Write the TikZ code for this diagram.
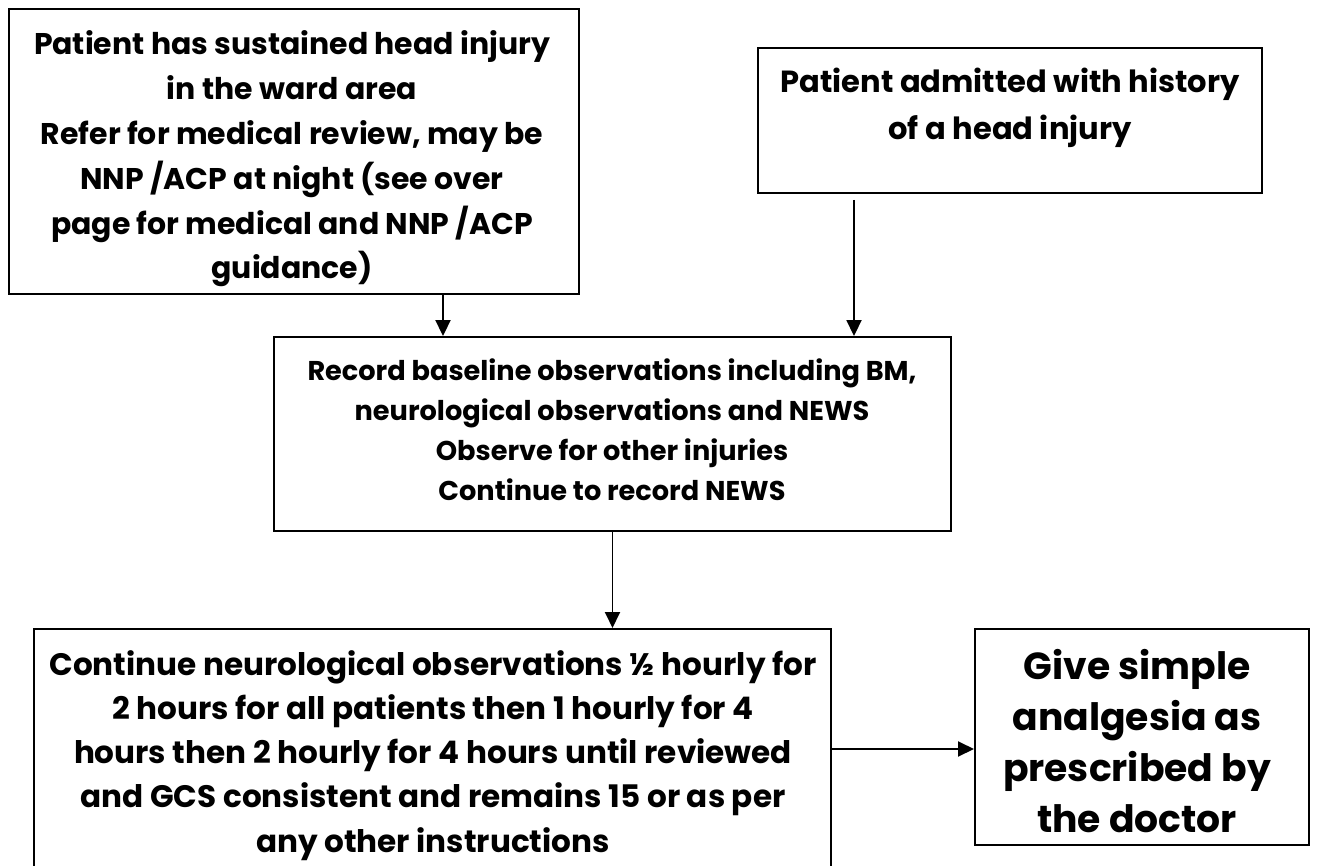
\documentclass[tikz,border=0pt]{standalone}
\usepackage{fontspec}
\setmainfont{Poppins}[BoldFont={* Bold}]
\usetikzlibrary{arrows.meta}
\newdimen\fitw
\newcommand\fitlines[4]{% target width, sample line, baselineskip, rows
  \settowidth\fitw{\bfseries\fontsize{10}{12}\selectfont #2}%
  \pgfmathsetmacro\fitsz{10*#1/\fitw}%
  \bfseries\fontsize{\fitsz}{#3}\selectfont\renewcommand\arraystretch{1}%
  \begin{tabular}[t]{@{}c@{}}#4\end{tabular}}
\begin{document}
\begin{tikzpicture}[x=1pt,y=-1pt,
  box/.style={draw, line width=1.9pt, inner sep=0pt},
  txt/.style={inner sep=0pt, anchor=base},
  conn/.style={line width=1.9pt, -{Triangle[length=16pt,width=15pt]}}]
\useasboundingbox (0,0) rectangle (1317,866);
\fill[white] (0,0) rectangle (1317,866);
\clip (0,0) rectangle (1317,866);
% boxes
\node[box, minimum width=570pt, minimum height=285pt] (a) at (294,151.5) {};
\node[box, minimum width=504pt, minimum height=145pt] (b) at (1010,120.5) {};
\node[box, minimum width=677pt, minimum height=194pt] (c) at (612.5,434) {};
\node[box, minimum width=797pt, minimum height=300pt, anchor=north west] (d) at (33,628) {};
\node[box, minimum width=334pt, minimum height=216pt, anchor=north west] (e) at (974,628) {};
% texts
\node[txt] (at) at (292,55) {\fitlines{516}{Patient has sustained head injury}{44.8}{Patient has sustained head injury\\in the ward area\\Refer for medical review, may be\\NNP /ACP at night (see over\\page for medical and NNP /ACP\\guidance)}};
\node[txt] (bt) at (1010,93) {\fitlines{459}{Patient admitted with history}{47}{Patient admitted with history\\of a head injury}};
\node[txt] (ct) at (612,381) {\fitlines{609}{Record baseline observations including BM,}{40}{Record baseline observations including BM,\\neurological observations and NEWS\\Observe for other injuries\\Continue to record NEWS}};
\node[txt] (dt) at (433,675) {\fitlines{718}{hours then 2 hourly for 4 hours until reviewed}{44.3}{Continue neurological observations ½ hourly for\\2 hours for all patients then 1 hourly for 4\\hours then 2 hourly for 4 hours until reviewed\\and GCS consistent and remains 15 or as per\\any other instructions}};
\node[txt] (et) at (1137,679) {\fitlines{268}{prescribed by}{51}{Give simple\\analgesia as\\prescribed by\\the doctor}};
% connectors
\coordinate (xa) at (443,0);
\coordinate (bs) at (854,200);
\coordinate (yd) at (0,749);
\draw[conn] (a.south -| xa) -- (c.north -| xa);
\draw[conn] (bs) -- (c.north -| bs);
\draw[conn] (c.south) -- (d.north -| c.south);
\draw[conn] (d.east |- yd) -- (e.west |- yd);
\end{tikzpicture}
\end{document}
